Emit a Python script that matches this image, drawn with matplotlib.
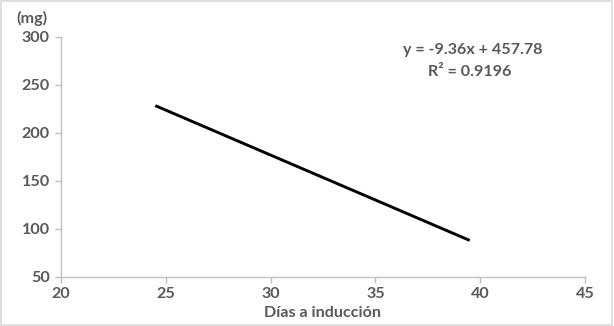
import matplotlib
matplotlib.use("Agg")
import matplotlib.pyplot as plt
from matplotlib.patches import Rectangle

# Data
x_vals = [24.5, 39.5]
y_vals = [228.5, 88.1]
x_ticks = [20, 25, 30, 35, 40, 45]
y_ticks = [50, 100, 150, 200, 250, 300]
eq_text = "y = -9.36x + 457.78"
r2_text = "R² = 0.9196"
x_label = "Días a inducción"
y_label = "(mg)"

plt.rcParams['font.family'] = ['Lato', 'DejaVu Sans']
gray = '#595959'
fs = 11.6
fw = 'bold'

fig = plt.figure(figsize=(6.14, 3.26), dpi=100)
ax = fig.add_axes([61/614, 1-277/326, (585-61)/614, (277-37)/326])

ax.plot(x_vals, y_vals, color='black', linewidth=2.1, solid_capstyle='butt')

ax.set_xlim(20, 45)
ax.set_ylim(50, 300)
ax.set_xticks(x_ticks)
ax.set_yticks(y_ticks)
for s in ['top', 'right']:
    ax.spines[s].set_visible(False)
for s in ['left', 'bottom']:
    ax.spines[s].set_color('#bfbfbf')
    ax.spines[s].set_linewidth(1.0)
ax.tick_params(axis='both', colors='#bfbfbf', labelcolor=gray, labelsize=fs,
               length=4, width=1.0, direction='out')
for lab in ax.get_xticklabels() + ax.get_yticklabels():
    lab.set_fontweight(fw)
ax.tick_params(axis='x', pad=3)
ax.tick_params(axis='y', pad=4)

fig.text(473/614, 1-50/326, eq_text, ha='center', va='center', fontsize=fs,
         color=gray, fontweight=fw)
fig.text(470/614, 1-72/326, r2_text, ha='center', va='center', fontsize=fs,
         color=gray, fontweight=fw)
fig.text(32/614, 1-18/326, y_label, ha='center', va='center', fontsize=fs,
         color=gray, fontweight=fw)
fig.text(323/614, 1-313/326, x_label, ha='center', va='center', fontsize=fs,
         color=gray, fontweight=fw)

fig.patches.append(Rectangle((0.002, 0.003), 0.995, 0.993, transform=fig.transFigure,
                             fill=False, edgecolor='#d9d9d9', linewidth=1.2))

fig.savefig('out.png', dpi=100)
